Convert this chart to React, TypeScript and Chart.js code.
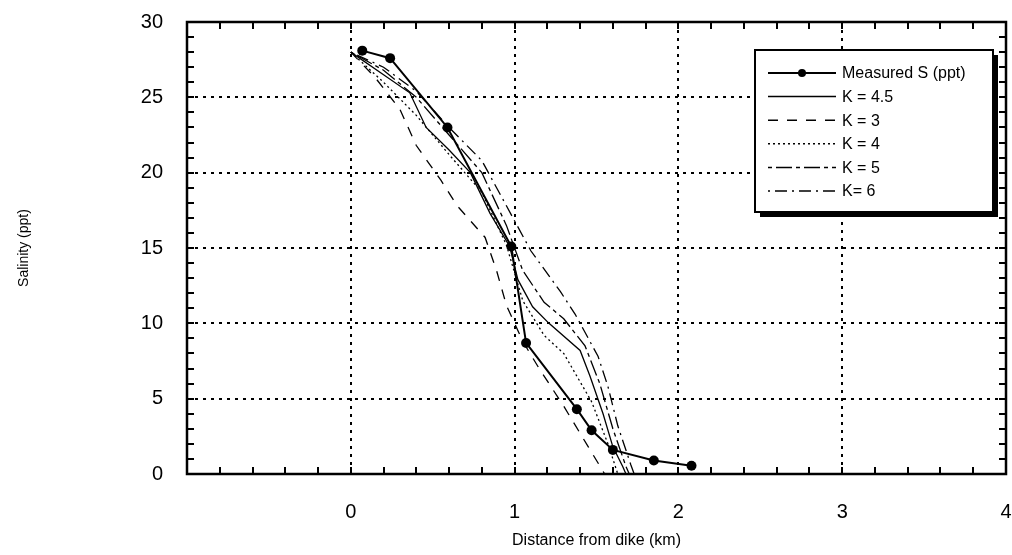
import React, { useEffect, useRef } from "react";
import { Chart, registerables } from "chart.js";
Chart.register(...registerables);

const xTicks = [-1, 0, 1, 2, 3, 4];
const yTicks = [0, 5, 10, 15, 20, 25, 30];

const measuredX = [0.07, 0.24, 0.59, 0.98, 1.07, 1.38, 1.47, 1.6, 1.85, 2.08];
const measuredY = [28.1, 27.6, 23.0, 15.1, 8.7, 4.3, 2.9, 1.6, 0.9, 0.55];

const k45X = [0, 0.2, 0.36, 0.46, 0.6, 0.73, 0.85, 0.97, 1.02, 1.11, 1.21, 1.4, 1.46, 1.54, 1.6, 1.66, 1.68];
const k45Y = [28, 26.5, 25.3, 23.0, 21.5, 20.0, 17.3, 15.1, 12.9, 11.1, 10.0, 8.2, 6.5, 4.0, 1.8, 0.5, 0];

const k3X = [0, 0.15, 0.3, 0.4, 0.55, 0.65, 0.82, 0.89, 0.95, 1.05, 1.15, 1.3, 1.45, 1.55];
const k3Y = [28, 26.3, 24.2, 21.8, 19.5, 17.8, 15.7, 13.5, 11.2, 8.8, 7.0, 4.5, 1.8, 0];

const k4X = [0, 0.2, 0.4, 0.6, 0.8, 0.95, 1.05, 1.18, 1.3, 1.47, 1.57, 1.63];
const k4Y = [28, 26, 23.8, 21.2, 18.7, 15.2, 11.5, 9.2, 8.0, 4.8, 2, 0];

const k5X = [0, 0.2, 0.4, 0.6, 0.8, 0.95, 1.05, 1.18, 1.3, 1.43, 1.52, 1.6, 1.68, 1.7];
const k5Y = [28, 26.8, 25, 22.5, 20, 16.5, 13.5, 11.4, 10.3, 8.5, 6, 3, 0.5, 0];

const k6X = [0, 0.2, 0.4, 0.6, 0.8, 0.95, 1.1, 1.28, 1.37, 1.51, 1.57, 1.63, 1.71, 1.73];
const k6Y = [28, 27, 25.4, 23, 20.8, 17.8, 14.8, 12.1, 10.6, 7.8, 5.8, 3.2, 0.6, 0];

const labels = ["Measured S (ppt)", "K = 4.5", "K = 3", "K = 4", "K = 5", "K= 6"];
const dashes: number[][] = [[], [], [10, 9], [2, 3], [4, 4, 16, 4], [2, 5, 12, 5]];

const pts = (xs: number[], ys: number[]) => xs.map((x, i) => ({ x, y: ys[i] }));

const FONT = "'Liberation Sans', Arial, sans-serif";

const framePlugin = {
  id: "frame",
  afterDatasetsDraw(chart: any) {
    const { ctx, chartArea: a, scales } = chart;
    const xs = scales.x;
    const ys = scales.y;
    ctx.save();
    ctx.strokeStyle = "#000";
    ctx.lineWidth = 2;
    for (let v = -1; v <= 4.0001; v += 0.2) {
      const px = Math.round(xs.getPixelForValue(v));
      ctx.beginPath();
      ctx.moveTo(px, a.bottom);
      ctx.lineTo(px, a.bottom - 7);
      ctx.moveTo(px, a.top);
      ctx.lineTo(px, a.top + 7);
      ctx.stroke();
    }
    for (let v = 0; v <= 30; v += 1) {
      const py = Math.round(ys.getPixelForValue(v));
      ctx.beginPath();
      ctx.moveTo(a.left, py);
      ctx.lineTo(a.left + 7, py);
      ctx.moveTo(a.right, py);
      ctx.lineTo(a.right - 7, py);
      ctx.stroke();
    }
    ctx.lineWidth = 2.5;
    ctx.strokeRect(a.left, a.top, a.right - a.left, a.bottom - a.top);

    // legend
    const lx = 755, ly = 50, lw = 238, lh = 162;
    ctx.fillStyle = "#000";
    ctx.fillRect(lx + 5, ly + 5, lw, lh);
    ctx.fillStyle = "#fff";
    ctx.fillRect(lx, ly, lw, lh);
    ctx.lineWidth = 2;
    ctx.strokeRect(lx, ly, lw, lh);
    ctx.font = "16px " + FONT;
    ctx.textBaseline = "middle";
    ctx.textAlign = "left";
    chart.data.datasets.forEach((ds: any, i: number) => {
      const y = 73 + i * 23.6;
      ctx.save();
      ctx.strokeStyle = "#000";
      ctx.lineWidth = i === 0 ? 2 : 1.5;
      ctx.setLineDash(ds.borderDash || []);
      ctx.beginPath();
      ctx.moveTo(768, y);
      ctx.lineTo(836, y);
      ctx.stroke();
      ctx.restore();
      if (i === 0) {
        ctx.beginPath();
        ctx.arc(802, y, 4, 0, Math.PI * 2);
        ctx.fillStyle = "#000";
        ctx.fill();
      }
      ctx.fillStyle = "#000";
      ctx.fillText(ds.label, 842, y + 1);
    });
    ctx.restore();
  },
};

export default function App() {
  const ref = useRef<HTMLCanvasElement>(null);
  useEffect(() => {
    if (!ref.current) return;
    const series = [
      pts(measuredX, measuredY),
      pts(k45X, k45Y),
      pts(k3X, k3Y),
      pts(k4X, k4Y),
      pts(k5X, k5Y),
      pts(k6X, k6Y),
    ];
    const chart = new Chart(ref.current, {
      type: "line",
      data: {
        datasets: series.map((d, i) => ({
          label: labels[i],
          data: d,
          borderColor: "#000",
          backgroundColor: "#000",
          borderWidth: i === 0 ? 2 : 1.3,
          borderDash: dashes[i],
          pointRadius: i === 0 ? 5 : 0,
          pointBackgroundColor: "#000",
          pointBorderWidth: 0,
          showLine: true,
          tension: 0,
          fill: false,
          order: i === 0 ? 0 : 1,
        })),
      },
      options: {
        animation: false,
        responsive: true,
        maintainAspectRatio: false,
        parsing: false as any,
        layout: { padding: { top: 22, right: 6, left: 0, bottom: 0 } },
        plugins: { legend: { display: false }, tooltip: { enabled: false } },
        scales: {
          x: {
            type: "linear",
            min: -1,
            max: 4,
            afterBuildTicks: (s: any) => {
              s.ticks = xTicks.map((v) => ({ value: v }));
            },
            afterFit: (s: any) => {
              s.height = 81;
              s.paddingLeft = 0;
              s.paddingRight = 0;
            },
            ticks: {
              color: "#000",
              padding: 26,
              font: { size: 20, family: FONT },
              callback: (v: any) => (v === -1 ? "" : String(v)),
            },
            grid: { color: "#000", lineWidth: 2, drawTicks: false },
            border: { display: false, dash: [3, 5] },
            title: {
              display: true,
              text: "Distance from dike (km)",
              color: "#000",
              font: { size: 16, family: FONT },
              padding: { top: 0, bottom: 5 },
            },
          },
          y: {
            type: "linear",
            min: 0,
            max: 30,
            afterBuildTicks: (s: any) => {
              s.ticks = yTicks.map((v) => ({ value: v }));
            },
            afterFit: (s: any) => {
              s.width = 187;
              s.paddingTop = 0;
              s.paddingBottom = 0;
            },
            ticks: {
              color: "#000",
              padding: 24,
              font: { size: 20, family: FONT },
            },
            grid: { color: "#000", lineWidth: 2, drawTicks: false },
            border: { display: false, dash: [3, 5] },
            title: {
              display: true,
              text: "Salinity (ppt)",
              color: "#000",
              font: { size: 14, family: FONT },
              padding: { top: 16, bottom: 0 },
            },
          },
        },
      },
      plugins: [framePlugin],
    } as any);
    return () => chart.destroy();
  }, []);
  return (
    <div style={{ position: "absolute", left: 0, top: 0, width: 1012, height: 555, background: "#fff" }}>
      <canvas ref={ref} />
    </div>
  );
}
